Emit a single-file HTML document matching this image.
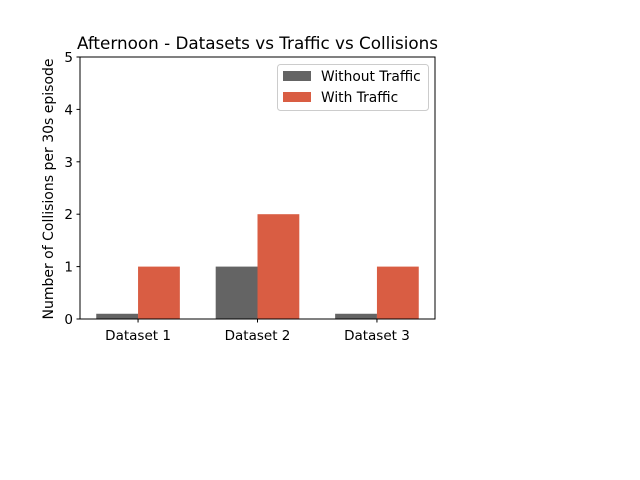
<!DOCTYPE html>
<html><head><meta charset="utf-8"><style>
body{margin:0;background:#fff;}
svg{display:block;font-family:"DejaVu Sans","Liberation Sans",sans-serif;}
</style></head><body>
<svg id="c" width="640" height="480">
<rect width="640" height="480" fill="#fff"/>
</svg>
<script>
const categories=["Dataset 1","Dataset 2","Dataset 3"];
const withoutTraffic=[0.1,1,0.1];
const withTraffic=[1,2,1];
const yTicks=[0,1,2,3,4,5];
const NS="http://www.w3.org/2000/svg";
const svg=document.getElementById('c');
const L=80,R=435,T=57,B=319;
const xmin=-0.486,xmax=2.486,ymax=5;
const xs=v=>L+(v-xmin)/(xmax-xmin)*(R-L);
const ys=v=>B-v/ymax*(B-T);
function mk(tag,attrs,txt){const e=document.createElementNS(NS,tag);for(const k in attrs)e.setAttribute(k,attrs[k]);if(txt!==undefined)e.textContent=txt;svg.appendChild(e);return e;}
const w=0.35;
categories.forEach((c,i)=>{
 let e=mk('rect',{x:xs(i-w),y:ys(withoutTraffic[i]),width:xs(i)-xs(i-w),height:B-ys(withoutTraffic[i]),fill:'#646464'});
 
 
 e=mk('rect',{x:xs(i),y:ys(withTraffic[i]),width:xs(i+w)-xs(i),height:B-ys(withTraffic[i]),fill:'#d95d43'});
 
 
 mk('line',{x1:xs(i),x2:xs(i),y1:B,y2:B+3.5,stroke:'#000','stroke-width':1});
 e=mk('text',{x:xs(i),y:B+21,'text-anchor':'middle','font-size':13.5},c);
 
 
});
yTicks.forEach(v=>{
 mk('line',{x1:L-3.5,x2:L,y1:ys(v),y2:ys(v),stroke:'#000','stroke-width':1});
 const e=mk('text',{x:L-7,y:ys(v)+5,'text-anchor':'end','font-size':13.5},v);
 
 
});
let f=mk('rect',{x:L,y:T,width:R-L,height:B-T,fill:'none',stroke:'#000','stroke-width':1});


let t=mk('text',{x:(L+R)/2,y:T-8,'text-anchor':'middle','font-size':16.8},'Afternoon - Datasets vs Traffic vs Collisions');


t=mk('text',{x:0,y:0,'text-anchor':'middle','font-size':14,transform:'translate(53,189) rotate(-90)'},'Number of Collisions per 30s episode');


const lg=mk('rect',{x:277.5,y:64.5,width:151,height:46,fill:'#fff',stroke:'#ccc','stroke-width':1,rx:3});


[['Without Traffic','#646464'],['With Traffic','#d95d43']].forEach((d,i)=>{
 const yy=71+i*21;
 mk('rect',{x:283,y:yy,width:28,height:10,fill:d[1]});
 const e=mk('text',{x:321,y:yy+10,'font-size':13.8},d[0]);
 
 
});
</script>
</body></html>
